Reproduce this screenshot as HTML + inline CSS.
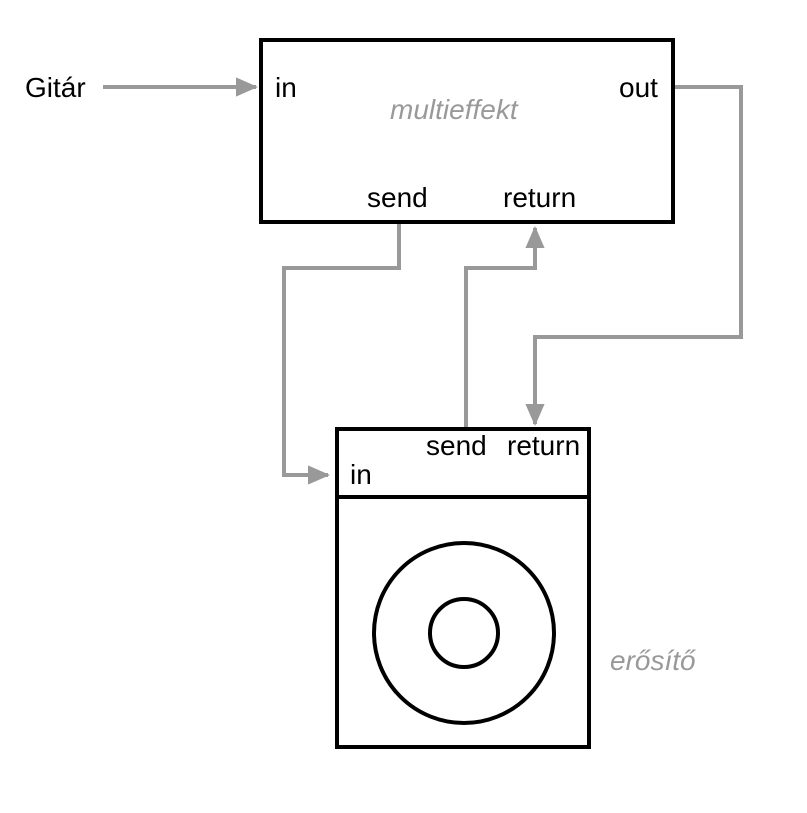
<!DOCTYPE html>
<html><head><style>
html,body{margin:0;padding:0;background:#fff;}
svg{display:block;}
text{font-family:"Liberation Sans",sans-serif;font-size:28px;fill:#000;}
.g{fill:#999;font-style:italic;}
</style></head><body>
<svg width="807" height="813" viewBox="0 0 807 813">
<defs>
<marker id="a" markerWidth="6" markerHeight="6" refX="5" refY="3" orient="auto" markerUnits="strokeWidth">
<path d="M0,0.6 L5.5,3 L0,5.4 Z" fill="#999"/>
</marker>
</defs>
<g fill="none" stroke="#999" stroke-width="4">
<path d="M103,87 H256" marker-end="url(#a)"/>
<path d="M674,87 H741 V337 H535 V424" marker-end="url(#a)"/>
<path d="M399,224 V268 H284 V475 H328" marker-end="url(#a)"/>
<path d="M466,428 V268 H535 V228" marker-end="url(#a)"/>
</g>
<rect x="261" y="40" width="412" height="182" fill="none" stroke="#000" stroke-width="4"/>
<rect x="337" y="429" width="252" height="318" fill="none" stroke="#000" stroke-width="4"/>
<line x1="337" y1="497" x2="589" y2="497" stroke="#000" stroke-width="4"/>
<circle cx="464" cy="633" r="90" fill="none" stroke="#000" stroke-width="4"/>
<circle cx="464" cy="633" r="34" fill="none" stroke="#000" stroke-width="4"/>
<text x="25" y="97">Gitár</text>
<text x="275" y="97">in</text>
<text x="619" y="97">out</text>
<text x="390" y="119" class="g">multieffekt</text>
<text x="367" y="207">send</text>
<text x="503" y="207">return</text>
<text x="426" y="455">send</text>
<text x="507" y="455">return</text>
<text x="350" y="484">in</text>
<text x="610" y="670" class="g">erősítő</text>
</svg>
</body></html>
